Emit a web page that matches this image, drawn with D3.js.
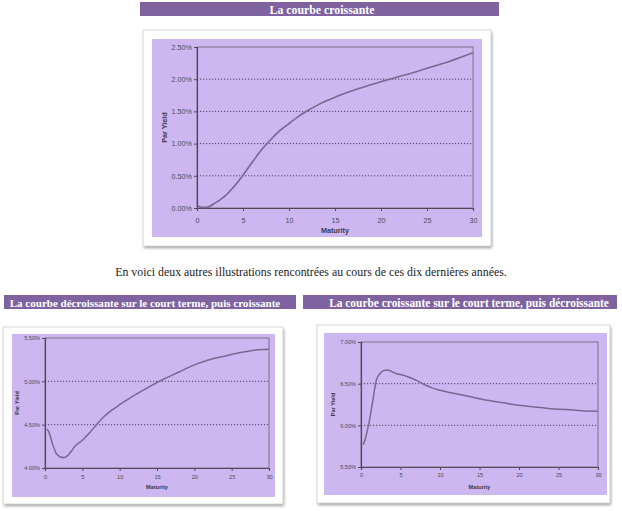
<!DOCTYPE html>
<html>
<head>
<meta charset="utf-8">
<script src="https://cdn.jsdelivr.net/npm/d3@7"></script>
<style>
  html, body { margin: 0; padding: 0; background: #fff; }
  svg { display: block; }
</style>
</head>
<body>
<svg id="page" width="622" height="511"></svg>
<script>
// Chart values (maturity in years, par yield in %)
const titles = [
  "La courbe croissante",
  "La courbe décroissante sur le court terme, puis croissante",
  "La courbe croissante sur le court terme, puis décroissante"
];
const introText = "En voici deux autres illustrations rencontrées au cours de ces dix dernières années.";

const xTicks = [0, 5, 10, 15, 20, 25, 30];

const maturity1 = [0, 0.5, 1, 2, 3, 4, 5, 6, 7, 8, 9, 10, 11, 12, 13, 14, 15, 17.5, 20, 22.5, 25, 27.5, 30];
const yield1 = [0.04, 0.01, 0.01, 0.08, 0.18, 0.33, 0.51, 0.71, 0.9, 1.06, 1.2, 1.31, 1.42, 1.51, 1.59, 1.66, 1.72, 1.85, 1.96, 2.06, 2.17, 2.28, 2.41];
const yTicks1 = [0, 0.5, 1, 1.5, 2, 2.5];

const maturity2 = [0.25, 0.5, 1, 1.5, 2, 2.5, 3, 3.5, 4, 5, 6, 7, 8, 9, 10, 12, 14, 16, 18, 20, 22, 24, 26, 28, 30];
const yield2 = [4.45, 4.42, 4.28, 4.17, 4.13, 4.12, 4.14, 4.19, 4.25, 4.32, 4.41, 4.51, 4.6, 4.67, 4.73, 4.84, 4.94, 5.03, 5.11, 5.19, 5.25, 5.29, 5.33, 5.36, 5.37];
const yTicks2 = [4, 4.5, 5, 5.5];

const maturity3 = [0.25, 0.5, 0.75, 1, 1.25, 1.5, 1.75, 2, 2.5, 3, 3.5, 4, 4.5, 5, 6, 7, 8, 9, 10, 12, 14, 16, 18, 20, 22, 24, 26, 28, 30];
const yield3 = [5.77, 5.82, 5.92, 6.02, 6.16, 6.3, 6.45, 6.56, 6.63, 6.66, 6.66, 6.64, 6.62, 6.61, 6.58, 6.54, 6.49, 6.45, 6.42, 6.38, 6.34, 6.3, 6.27, 6.24, 6.22, 6.2, 6.19, 6.175, 6.17];
const yTicks3 = [5.5, 6, 6.5, 7];

const svg = d3.select("#page");

const defs = svg.append("defs");
defs.append("filter")
  .attr("id", "shadow")
  .attr("x", "-10%").attr("y", "-10%")
  .attr("width", "120%").attr("height", "120%")
  .append("feGaussianBlur")
  .attr("stdDeviation", 1.5);

// Section headers (fit = width the text takes in the picture)
const headers = [
  { x: 140, y: 2, w: 359, h: 14, tx: 322, fit: 105, text: titles[0] },
  { x: 4, y: 295, w: 292, h: 14, tx: 145, fit: 271, text: titles[1] },
  { x: 303, y: 295, w: 314, h: 14, tx: 469, fit: 280, text: titles[2] }
];

headers.forEach((h) => {
  svg.append("rect")
    .attr("x", h.x).attr("y", h.y)
    .attr("width", h.w).attr("height", h.h)
    .attr("fill", "#7f63a1");
  const t = svg.append("text")
    .attr("x", h.tx).attr("y", h.y + h.h / 2 + 0.5)
    .attr("text-anchor", "middle")
    .attr("dominant-baseline", "central")
    .attr("font-family", "'Liberation Serif', 'Times New Roman', serif")
    .attr("font-weight", "bold")
    .attr("font-size", 13)
    .attr("fill", "#fff")
    .text(h.text);
  const len = t.node().getComputedTextLength();
  t.attr("font-size", Math.min(13, 13 * h.fit / len));
});

const intro = svg.append("text")
  .attr("x", 311).attr("y", 272)
  .attr("text-anchor", "middle")
  .attr("dominant-baseline", "central")
  .attr("font-family", "'Liberation Serif', 'Times New Roman', serif")
  .attr("font-size", 12)
  .attr("fill", "#222")
  .text(introText);
intro.attr("font-size", 12 * 392 / intro.node().getComputedTextLength());

// Layout of the three chart panels
const charts = [
  {
    frame: [143, 30, 348, 216], bg: [152, 39, 330, 198],
    px: [197, 473], py: [208, 47], domain: [0, 2.5],
    maturity: maturity1, values: yield1, yTicks: yTicks1,
    font: 7.2, titleX: 164, matY: 230, xLabY: 220, width: 1.6
  },
  {
    frame: [3, 327, 280, 177], bg: [12, 334, 263, 163],
    px: [45, 269], py: [468, 338], domain: [4, 5.5],
    maturity: maturity2, values: yield2, yTicks: yTicks2,
    font: 5.6, titleX: 17, matY: 487, xLabY: 477, width: 1.5
  },
  {
    frame: [317, 325, 293, 178], bg: [324, 333, 283, 162],
    px: [361, 598], py: [467, 342], domain: [5.5, 7],
    maturity: maturity3, values: yield3, yTicks: yTicks3,
    font: 5.6, titleX: 333, matY: 487, xLabY: 475, width: 1.5
  }
];

const pct = d3.format(".2f");

charts.forEach((c) => {
  const [fx, fy, fw, fh] = c.frame;
  const [bx, by, bw, bh] = c.bg;

  // framed panel with soft shadow
  svg.append("rect")
    .attr("x", fx + 1).attr("y", fy + 2)
    .attr("width", fw).attr("height", fh)
    .attr("fill", "#9a9a9a")
    .attr("filter", "url(#shadow)");
  svg.append("rect")
    .attr("x", fx).attr("y", fy)
    .attr("width", fw).attr("height", fh)
    .attr("fill", "#fff")
    .attr("stroke", "#d8d8d8")
    .attr("stroke-width", 1);
  svg.append("rect")
    .attr("x", bx).attr("y", by)
    .attr("width", bw).attr("height", bh)
    .attr("fill", "#cdb7f1");

  const x = d3.scaleLinear().domain([0, 30]).range(c.px);
  const y = d3.scaleLinear().domain(c.domain).range(c.py);

  const g = svg.append("g");

  // dotted gridlines
  g.selectAll(".grid")
    .data(c.yTicks.slice(1, -1))
    .join("line")
    .attr("x1", c.px[0]).attr("x2", c.px[1])
    .attr("y1", (d) => y(d)).attr("y2", (d) => y(d))
    .attr("stroke", "#4e4462")
    .attr("stroke-width", 1)
    .attr("stroke-dasharray", "1.2,1.8");

  // plot border
  g.append("rect")
    .attr("x", c.px[0]).attr("y", c.py[1])
    .attr("width", c.px[1] - c.px[0])
    .attr("height", c.py[0] - c.py[1])
    .attr("fill", "none")
    .attr("stroke", "#7a7387")
    .attr("stroke-width", 1);

  const xAxis = g.append("g")
    .attr("transform", `translate(0,${c.py[0]})`)
    .call(d3.axisBottom(x).tickValues(xTicks).tickSize(3));
  const yAxis = g.append("g")
    .attr("transform", `translate(${c.px[0]},0)`)
    .call(d3.axisLeft(y).tickValues(c.yTicks).tickSize(3).tickPadding(2).tickFormat((d) => pct(d) + "%"));

  [xAxis, yAxis].forEach((a) => {
    a.select(".domain").attr("stroke", "#4f4a58").attr("stroke-width", 1.2);
    a.selectAll(".tick line").attr("stroke", "#4f4a58");
    a.selectAll(".tick text")
      .attr("fill", "#4a4a52")
      .attr("font-family", "'Liberation Sans', Arial, sans-serif")
      .attr("font-size", c.font);
  });
  xAxis.selectAll(".tick text")
    .attr("dy", null)
    .attr("dominant-baseline", "central")
    .attr("y", c.xLabY - c.py[0]);

  const line = d3.line()
    .x((d, i) => x(c.maturity[i]))
    .y((d) => y(d))
    .curve(d3.curveMonotoneX);

  g.append("path")
    .datum(c.values)
    .attr("d", line)
    .attr("fill", "none")
    .attr("stroke", "#77688f")
    .attr("stroke-width", c.width);

  // axis titles
  const midY = (c.py[0] + c.py[1]) / 2;
  g.append("text")
    .attr("transform", `translate(${c.titleX},${midY}) rotate(-90)`)
    .attr("text-anchor", "middle")
    .attr("dominant-baseline", "central")
    .attr("font-family", "'Liberation Sans', Arial, sans-serif")
    .attr("font-weight", "bold")
    .attr("font-size", c.font)
    .attr("fill", "#3c3848")
    .text("Par Yield");
  g.append("text")
    .attr("x", (c.px[0] + c.px[1]) / 2).attr("y", c.matY)
    .attr("text-anchor", "middle")
    .attr("dominant-baseline", "central")
    .attr("font-family", "'Liberation Sans', Arial, sans-serif")
    .attr("font-weight", "bold")
    .attr("font-size", c.font)
    .attr("fill", "#3c3848")
    .text("Maturity");
});
</script>
</body>
</html>
